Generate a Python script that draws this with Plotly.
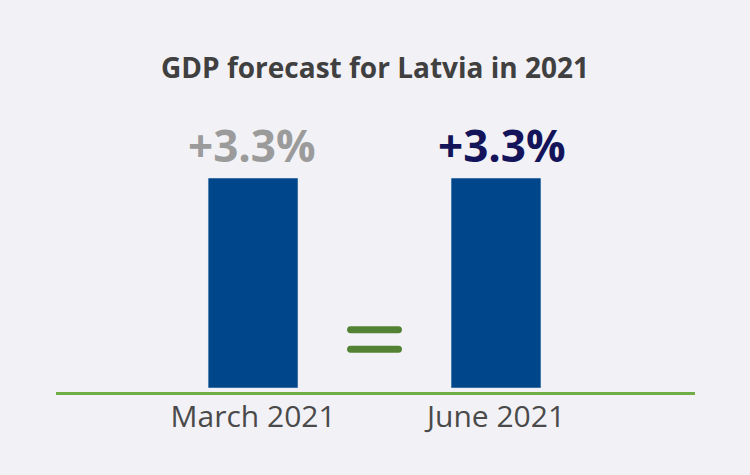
import plotly.graph_objects as go

categories = ["March 2021", "June 2021"]
values = [3.3, 3.3]
labels = ["+3.3%", "+3.3%"]
label_colors = ["#9b9b9b", "#14145a"]

BG = "#f2f2f6"
BAR = "#00468a"
LINE_GREEN = "#70ad47"
EQ_GREEN = "#548235"

fig = go.Figure()
fig.add_trace(go.Bar(x=categories, y=values, marker_color=BAR, width=0.37,
                     hoverinfo="skip"))

label_xshift = [-1, 6]
for c, v, t, col, xs in zip(categories, values, labels, label_colors, label_xshift):
    fig.add_annotation(x=c, y=v, text=f"<b>{t}</b>", showarrow=False,
                       yanchor="bottom", yshift=1, xshift=xs,
                       font=dict(family="Open Sans", size=44, color=col))

# equals sign between the bars
def pill(yc):
    L, r = 24, 3.5
    k = r * 4 / 3
    path = (f"M {-L},{-r} L {L},{-r} C {L+k},{-r} {L+k},{r} {L},{r} "
            f"L {-L},{r} C {-L-k},{r} {-L-k},{-r} {-L},{-r} Z")
    return dict(type="path", xref="x", yref="y", xsizemode="pixel", ysizemode="pixel",
                xanchor=0.5, yanchor=yc, path=path, fillcolor=EQ_GREEN,
                line=dict(width=0))

fig.add_shape(**pill(0.915))
fig.add_shape(**pill(0.61))

fig.update_layout(
    width=750, height=475,
    paper_bgcolor=BG, plot_bgcolor=BG,
    margin=dict(l=56, r=55, t=100, b=83),
    showlegend=False,
    title=dict(text="<b>GDP forecast for Latvia in 2021</b>", x=0.5, xanchor="center",
               y=1 - 68 / 475, yanchor="middle", yref="container",
               font=dict(family="Open Sans", size=28, color="#404040")),
    xaxis=dict(type="category", range=[-0.811, 1.819], showgrid=False, zeroline=False,
               showline=True, linecolor=LINE_GREEN, linewidth=3, ticks="",
               ticklabelstandoff=-4,
               tickfont=dict(family="Open Sans", size=30, color="#4a4a4a")),
    yaxis=dict(range=[-0.063, 4.5257], visible=False, showgrid=False, zeroline=False),
)

fig.write_html("out.html")
